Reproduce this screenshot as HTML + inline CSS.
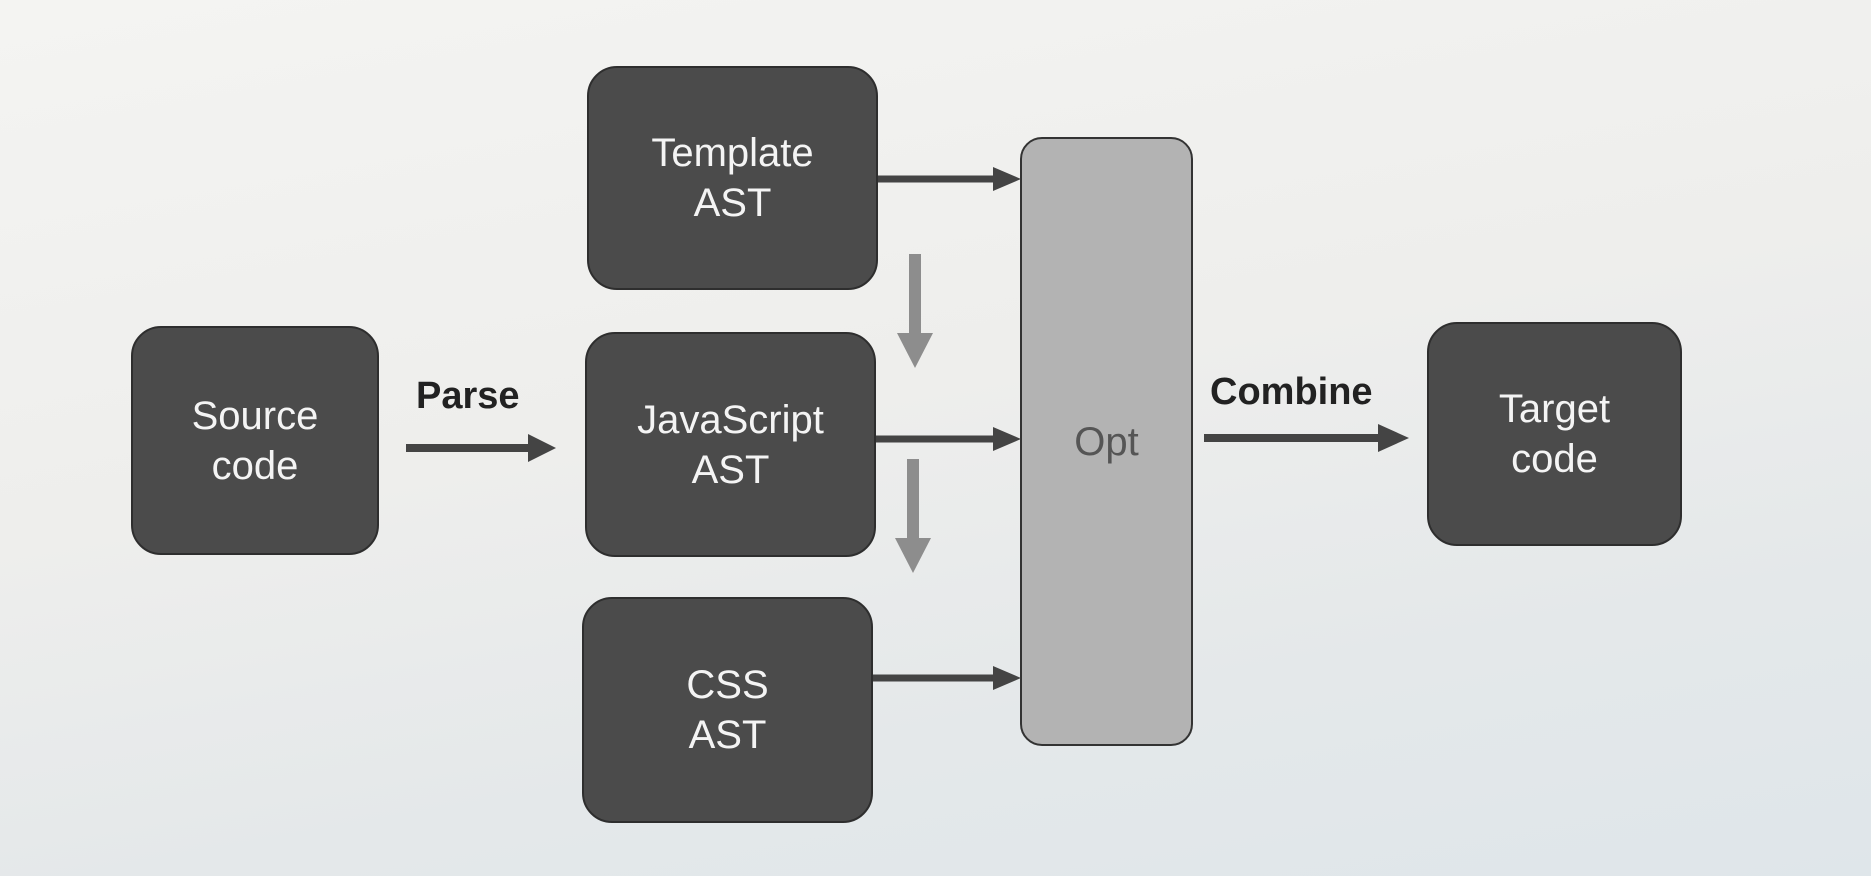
<!DOCTYPE html>
<html><head><style>
html,body{margin:0;padding:0}
body{width:1871px;height:876px;overflow:hidden;position:relative;font-family:"Liberation Sans","DejaVu Sans",sans-serif;
background:linear-gradient(170deg,#f4f4f2 0%,#eeeeec 45%,#e4e8ea 75%,#dfe6ea 100%);}
.b{position:absolute;background:#4b4b4b;border:2px solid #2e2e2e;border-radius:30px;color:#f4f4f4;font-size:40px;line-height:50px;display:flex;align-items:center;justify-content:center;text-align:center;box-sizing:border-box}
.l{position:absolute;font-size:38px;color:#222;font-weight:bold}
svg{position:absolute;left:0;top:0}
</style></head><body>
<div class="b" style="left:131px;top:326px;width:248px;height:229px">Source<br>code</div>
<div class="b" style="left:587px;top:66px;width:291px;height:224px">Template<br>AST</div>
<div class="b" style="left:585px;top:332px;width:291px;height:225px">JavaScript<br>AST</div>
<div class="b" style="left:582px;top:597px;width:291px;height:226px">CSS<br>AST</div>
<div class="b" style="left:1020px;top:137px;width:173px;height:609px;background:#b3b3b3;color:#555;border-color:#333;border-radius:22px">Opt</div>
<div class="b" style="left:1427px;top:322px;width:255px;height:224px">Target<br>code</div>
<div class="l" style="left:416px;top:375px">Parse</div>
<div class="l" style="left:1210px;top:371px">Combine</div>
<svg width="1871" height="876">
<g fill="#444" stroke="#444">
<line x1="406" y1="448" x2="530" y2="448" stroke-width="8"/><polygon points="528,434 556,448 528,462" stroke="none"/>
<line x1="878" y1="179" x2="995" y2="179" stroke-width="7"/><polygon points="993,167 1021,179 993,191" stroke="none"/>
<line x1="876" y1="439" x2="995" y2="439" stroke-width="7"/><polygon points="993,427 1021,439 993,451" stroke="none"/>
<line x1="873" y1="678" x2="995" y2="678" stroke-width="7"/><polygon points="993,666 1021,678 993,690" stroke="none"/>
<line x1="1204" y1="438" x2="1380" y2="438" stroke-width="8"/><polygon points="1378,424 1409,438 1378,452" stroke="none"/>
</g>
<g fill="#8d8d8d" stroke="#8d8d8d">
<line x1="915" y1="254" x2="915" y2="335" stroke-width="12"/><polygon points="897,333 933,333 915,368" stroke="none"/>
<line x1="913" y1="459" x2="913" y2="540" stroke-width="12"/><polygon points="895,538 931,538 913,573" stroke="none"/>
</g>
</svg>
</body></html>
